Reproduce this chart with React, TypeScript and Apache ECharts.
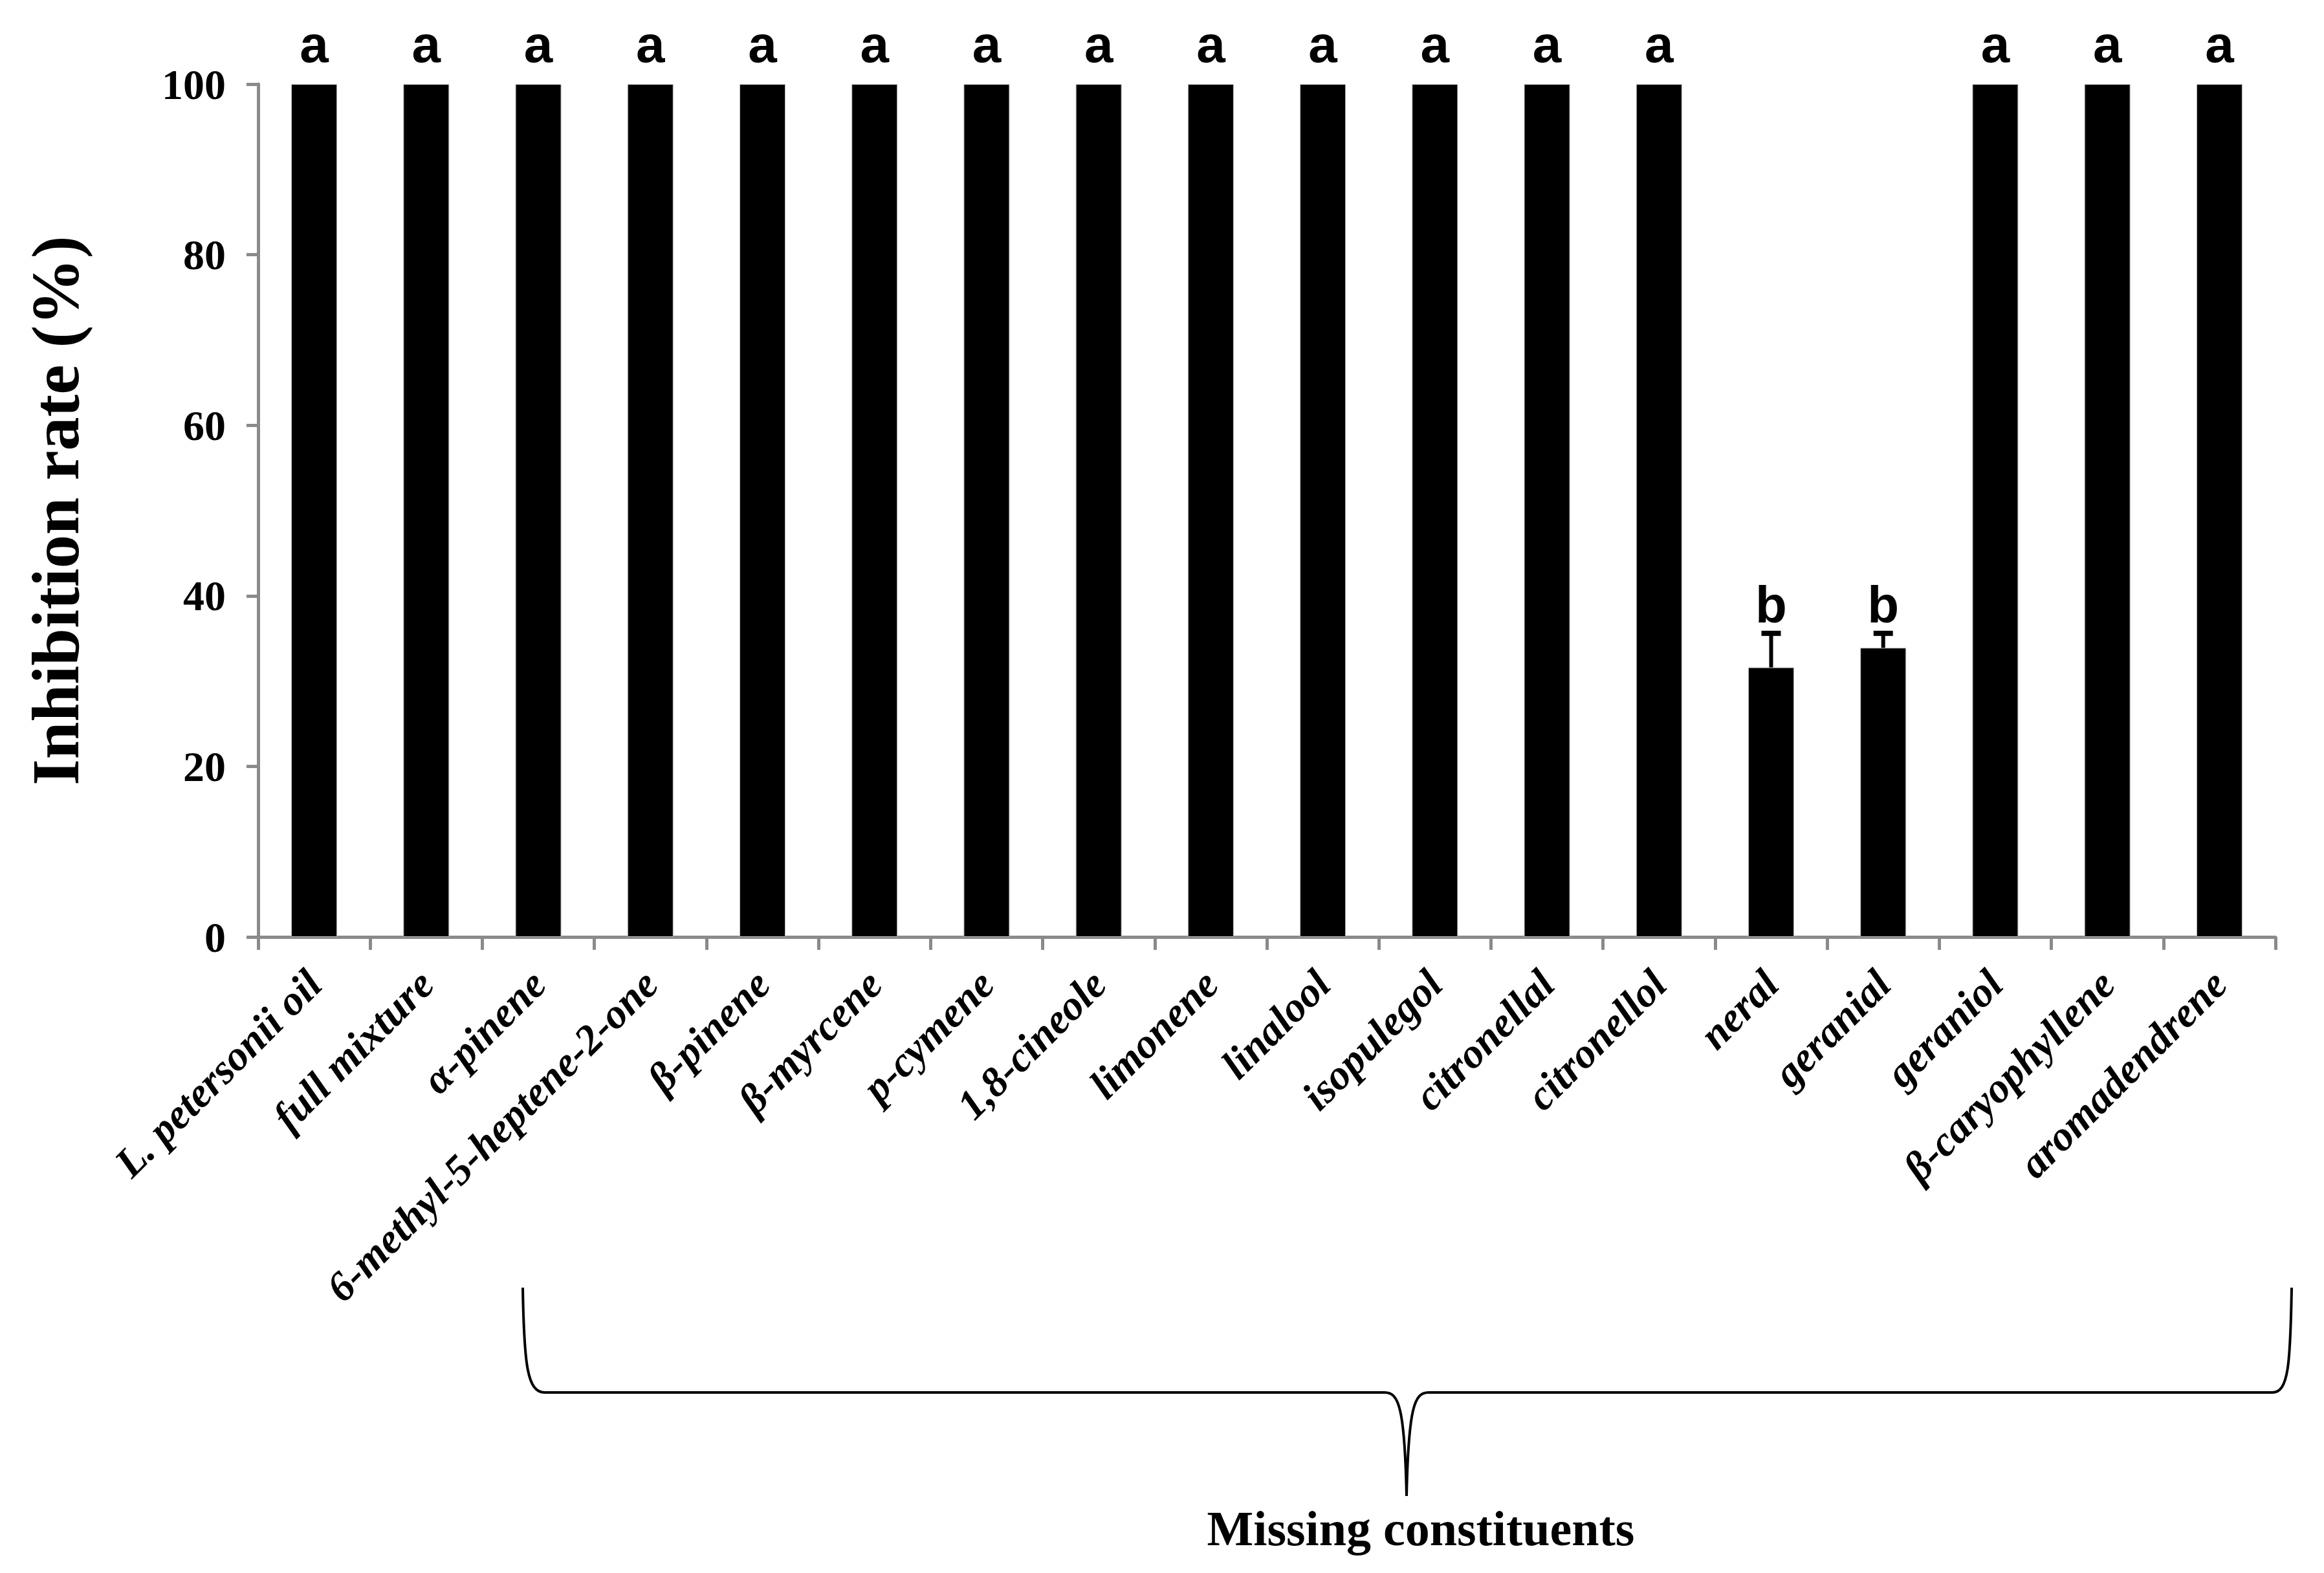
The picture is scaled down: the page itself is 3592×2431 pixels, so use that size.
import React, { useEffect, useRef } from "react";
import * as echarts from "echarts";

const categories = [
  "L. petersonii oil",
  "full mixture",
  "α-pinene",
  "6-methyl-5-heptene-2-one",
  "β-pinene",
  "β-myrcene",
  "p-cymene",
  "1,8-cineole",
  "limonene",
  "linalool",
  "isopulegol",
  "citronellal",
  "citronellol",
  "neral",
  "geranial",
  "geraniol",
  "β-caryophyllene",
  "aromadendrene",
];
const inhibition = [100, 100, 100, 100, 100, 100, 100, 100, 100, 100, 100, 100, 100, 31.6, 33.9, 100, 100, 100];
const errorUp = [0, 0, 0, 0, 0, 0, 0, 0, 0, 0, 0, 0, 0, 4.0, 1.7, 0, 0, 0];
const letters = ["a", "a", "a", "a", "a", "a", "a", "a", "a", "a", "a", "a", "a", "b", "b", "a", "a", "a"];
const yTicks = { min: 0, max: 100, interval: 20 };
const yTitle = "Inhibition rate (%)";
const groupTitle = "Missing constituents";

const BRACE_D =
  "M 808 1990 C 810 2110 815 2152 842 2152 L 2140 2152 C 2162 2152 2171 2175 2174 2312 C 2177 2175 2186 2152 2208 2152 L 3512 2152 C 3537 2152 3540 2110 3542 1990";

let braceRegistered = false;

export default function App() {
  const ref = useRef<HTMLDivElement>(null);
  useEffect(() => {
    document.body.style.margin = "0";
    if (!braceRegistered) {
      echarts.graphic.registerShape("brace", echarts.graphic.extendPath(BRACE_D, {}));
      braceRegistered = true;
    }
    const chart = echarts.init(ref.current!, null, { renderer: "svg" });
    const axisGrey = "#8a8a8a";
    chart.setOption({
      animation: false,
      backgroundColor: "#ffffff",
      grid: { left: 399, right: 75, top: 130, bottom: 983, containLabel: false },
      xAxis: {
        type: "category",
        data: categories,
        axisLine: { lineStyle: { color: axisGrey, width: 5 } },
        axisTick: { show: true, length: 20, lineStyle: { color: axisGrey, width: 5 } },
        axisLabel: {
          rotate: 45,
          interval: 0,
          margin: 62,
          color: "#000",
          fontFamily: "Liberation Serif",
          fontWeight: "bold",
          fontStyle: "italic",
          fontSize: 65,
        },
      },
      yAxis: {
        type: "value",
        min: yTicks.min,
        max: yTicks.max,
        interval: yTicks.interval,
        name: yTitle,
        nameLocation: "middle",
        nameGap: 262,
        nameRotate: 90,
        nameTextStyle: {
          color: "#000",
          fontFamily: "Liberation Serif",
          fontWeight: "bold",
          fontSize: 104,
        },
        splitLine: { show: false },
        axisLine: { show: true, lineStyle: { color: axisGrey, width: 5 } },
        axisTick: { show: true, length: 18, lineStyle: { color: axisGrey, width: 5 } },
        axisLabel: {
          margin: 50,
          color: "#000",
          fontFamily: "Liberation Serif",
          fontWeight: "bold",
          fontSize: 66,
        },
      },
      series: [
        {
          type: "bar",
          data: inhibition,
          barWidth: 71,
          itemStyle: { color: "#000", borderColor: "#bdbdbd", borderWidth: 1 },
          z: 2,
        },
        {
          type: "custom",
          data: inhibition.map((v, i) => [i, v, errorUp[i]]),
          renderItem: (params: any, api: any) => {
            const i = api.value(0);
            const v = api.value(1);
            const e = api.value(2);
            if (!(e > 0)) return null;
            const base = api.coord([i, v]);
            const top = api.coord([i, v + e]);
            return {
              type: "group",
              children: [
                {
                  type: "line",
                  shape: { x1: base[0], y1: base[1], x2: top[0], y2: top[1] },
                  style: { stroke: "#000", lineWidth: 6 },
                },
                {
                  type: "line",
                  shape: { x1: top[0] - 15, y1: top[1], x2: top[0] + 15, y2: top[1] },
                  style: { stroke: "#000", lineWidth: 8 },
                },
              ],
            };
          },
          z: 3,
        },
        {
          type: "scatter",
          symbolSize: 0,
          silent: true,
          itemStyle: { opacity: 1 },
          data: inhibition.map((v, i) => ({
            value: [i, v + errorUp[i]],
            label: { distance: errorUp[i] > 0 ? 4 : 22 },
          })),
          label: {
            show: true,
            position: "top",
            formatter: (p: any) => letters[p.dataIndex],
            color: "#000",
            opacity: 1,
            textBorderWidth: 0,
            fontFamily: "Liberation Sans",
            fontWeight: "bold",
            fontSize: 80,
          },
          z: 4,
        },
      ],
      graphic: [
        {
          type: "brace",
          x: 0,
          y: 0,
          style: { stroke: "#000", lineWidth: 4, fill: null },
          silent: true,
        },
        {
          type: "text",
          x: 2196,
          y: 2362,
          style: {
            text: groupTitle,
            fill: "#000",
            font: "bold 76px 'Liberation Serif'",
            textAlign: "center",
            textVerticalAlign: "middle",
          },
        },
      ],
    });
    return () => chart.dispose();
  }, []);
  return <div ref={ref} style={{ width: 3592, height: 2431 }} />;
}
